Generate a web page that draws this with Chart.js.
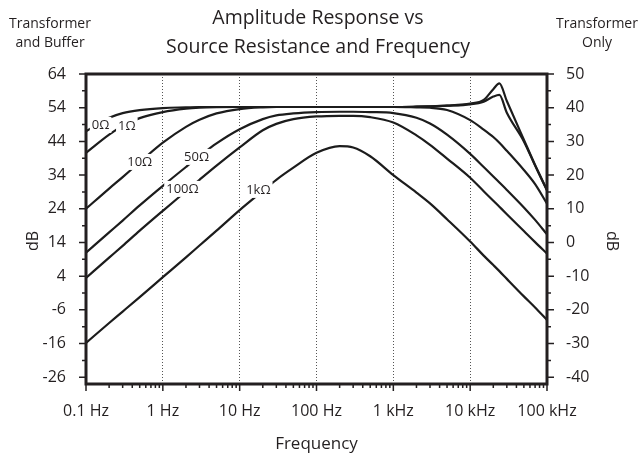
<!DOCTYPE html>
<html>
<head>
<meta charset="utf-8">
<script src="https://cdn.jsdelivr.net/npm/chart.js@4.4.1/dist/chart.umd.min.js"></script>
<style>
  html, body { margin: 0; padding: 0; background: #fff; }
  canvas { display: block; }
</style>
</head>
<body>
<canvas id="ampChart" width="643" height="457"></canvas>
<script>
// Frequencies (Hz) the curves were read at
const freqs = [0.1, 0.2, 0.3, 0.5, 1, 2, 3, 5, 10, 20, 30, 50, 100, 200, 300, 500,
  1000, 2000, 3000, 5000, 10000, 15000, 20000, 24000, 30000, 50000, 70000, 100000];

// dB values (left axis, transformer + buffer) per source resistance
const r0 = [47, 51, 52.4, 53.3, 53.9, 54.1, 54.2, 54.2, 54.2, 54.2, 54.2, 54.2, 54.2, 54.2, 54.2, 54.2,
  54.2, 54.3, 54.4, 54.6, 55.2, 56.3, 59.5, 61.2, 56, 44.5, 37, 29.6];
const r1 = [40.6, 46, 48.6, 50.9, 52.7, 53.7, 54, 54.15, 54.2, 54.2, 54.2, 54.2, 54.2, 54.2, 54.2, 54.2,
  54.2, 54.3, 54.4, 54.6, 55, 55.8, 57.3, 57.8, 52.5, 44, 36.8, 29.4];
const r10 = [24, 30, 33.4, 37.8, 43.6, 48.3, 50.4, 52.3, 53.6, 54.1, 54.2, 54.2, 54.2, 54.2, 54.2, 54.2,
  54.2, 54.1, 54, 53.3, 50.3, 47.5, 45.3, 43.6, 41.2, 35.5, 31.3, 25.5];
const r50 = [11, 17, 20.5, 25, 30.8, 36.4, 39.6, 43.4, 47.6, 50.6, 51.7, 52.3, 52.7, 52.8, 52.8, 52.7,
  52.4, 51, 49.3, 46, 40.3, 36.4, 33.6, 31.8, 29.6, 24.4, 20.7, 16.4];
const r100 = [3.5, 9.5, 13, 17.5, 23.4, 29.2, 32.6, 36.8, 42.2, 47.3, 49.2, 50.6, 51.4, 51.6, 51.6, 51.2,
  49.6, 45.8, 43, 38.9, 33.2, 29.2, 26.4, 24.6, 22.4, 17.4, 14.1, 10.7];
const r1k = [-15.8, -9.9, -6.5, -2.2, 3.7, 9.6, 13.1, 17.5, 23.6, 29.3, 32.6, 36.2, 40.6, 42.6, 42.2, 39.6,
  34, 28.8, 25.6, 20.9, 14.3, 10.1, 7.3, 5.5, 3.2, -2, -5.3, -9];

// Axis ticks
const decadeTicks = [0.1, 1, 10, 100, 1000, 10000, 100000];
const decadeLabels = ['0.1 Hz', '1 Hz', '10 Hz', '100 Hz', '1 kHz', '10 kHz', '100 kHz'];
const leftTicks = [64, 54, 44, 34, 24, 14, 4, -6, -16, -26];
const rightTicks = [50, 40, 30, 20, 10, 0, -10, -20, -30, -40];

// Curve labels: text, frequency, dB
const labelText = ['0\u03A9', '1\u03A9', '10\u03A9', '50\u03A9', '100\u03A9', '1k\u03A9'];
const labelFreq = [0.155, 0.34, 0.5, 2.75, 1.8, 17.5];
const labelDb = [48.9, 48.6, 37.9, 39.4, 29.9, 29.6];

const FONT = '"Open Sans", "Noto Sans", sans-serif';
const INK = '#231f20';

function series(vals) {
  return {
    data: freqs.map((f, i) => ({ x: f, y: vals[i] })),
    borderColor: '#1c1c1c',
    borderWidth: 2.2,
    pointRadius: 0,
    fill: false,
    cubicInterpolationMode: 'monotone'
  };
}

// frame, tick marks, curve labels and the extra texts
const decorations = {
  id: 'decorations',
  afterDatasetsDraw(chart) {
    const ctx = chart.ctx;
    const a = chart.chartArea;
    const xs = chart.scales.x, ys = chart.scales.y;
    ctx.save();

    // curve labels with a white gap behind
    ctx.font = '13px ' + FONT;
    ctx.textAlign = 'center';
    ctx.textBaseline = 'middle';
    labelText.forEach((t, i) => {
      const px = xs.getPixelForValue(labelFreq[i]);
      const py = ys.getPixelForValue(labelDb[i]);
      const w = ctx.measureText(t).width;
      ctx.fillStyle = '#fff';
      ctx.fillRect(px - w / 2 - 2, py - 8, w + 4, 16);
      ctx.fillStyle = INK;
      ctx.fillText(t, px, py);
    });

    // frame
    ctx.strokeStyle = INK;
    ctx.lineWidth = 3;
    ctx.strokeRect(a.left, a.top, a.right - a.left, a.bottom - a.top);

    // y tick marks every 5 dB
    ctx.lineWidth = 1.5;
    ctx.beginPath();
    for (let v = 64; v >= -28; v -= 5) {
      const y = ys.getPixelForValue(v);
      const len = ((64 - v) % 10 === 0) ? 7 : 4;
      ctx.moveTo(a.left - len, y); ctx.lineTo(a.left, y);
      ctx.moveTo(a.right, y); ctx.lineTo(a.right + len, y);
    }
    // x tick marks, log minor
    decadeTicks.forEach((d, di) => {
      for (let k = 1; k <= 9; k++) {
        if (di === decadeTicks.length - 1 && k > 1) break;
        const x = xs.getPixelForValue(d * k);
        const len = k === 1 ? 7 : 4;
        ctx.moveTo(x, a.bottom); ctx.lineTo(x, a.bottom + len);
      }
    });
    ctx.stroke();

    ctx.fillStyle = INK;
    ctx.textAlign = 'center';
    ctx.textBaseline = 'alphabetic';
    // title
    ctx.font = '19.5px ' + FONT;
    ctx.fillText('Amplitude Response vs', 318, 24);
    ctx.fillText('Source Resistance and Frequency', 318, 53);
    // corner captions
    ctx.font = '14px ' + FONT;
    ctx.fillText('Transformer', 50, 28);
    ctx.fillText('and Buffer', 50, 47);
    ctx.fillText('Transformer', 597, 28);
    ctx.fillText('Only', 597, 47);

    // dB axis titles
    ctx.font = '16px ' + FONT;
    ctx.textBaseline = 'middle';
    ctx.save();
    ctx.translate(33, 241);
    ctx.rotate(-Math.PI / 2);
    ctx.fillText('dB', 0, 0);
    ctx.restore();
    ctx.save();
    ctx.translate(612, 241);
    ctx.rotate(Math.PI / 2);
    ctx.fillText('dB', 0, 0);
    ctx.restore();

    ctx.restore();
  }
};

const ampChart = new Chart(document.getElementById('ampChart').getContext('2d'), {
  type: 'line',
  data: {
    datasets: [series(r0), series(r1), series(r10), series(r50), series(r100), series(r1k)]
  },
  options: {
    responsive: false,
    animation: false,
    devicePixelRatio: 1,
    layout: { padding: { top: 74, left: 0, right: 0, bottom: 0 } },
    plugins: {
      legend: { display: false },
      tooltip: { enabled: false }
    },
    scales: {
      x: {
        type: 'logarithmic',
        position: 'bottom',
        min: 0.1,
        max: 100000,
        afterBuildTicks: s => { s.ticks = decadeTicks.map(v => ({ value: v })); },
        afterFit: s => { s.height = 73; },
        ticks: {
          autoSkip: false,
          maxRotation: 0,
          padding: 18,
          color: INK,
          font: { family: FONT, size: 16 },
          callback: (v, i) => decadeLabels[i]
        },
        grid: {
          drawTicks: false,
          color: '#555',
          lineWidth: c => (c.index === 0 || c.index === decadeTicks.length - 1) ? 0 : 1
        },
        border: { display: false, dash: [1, 2] },
        title: {
          display: true,
          text: 'Frequency',
          color: INK,
          font: { family: FONT, size: 17 },
          padding: { top: 0, bottom: 3 }
        }
      },
      y: {
        position: 'left',
        min: -28,
        max: 64,
        afterBuildTicks: s => { s.ticks = leftTicks.map(v => ({ value: v })); },
        afterFit: s => { s.width = 86; },
        ticks: { padding: 12, color: INK, font: { family: FONT, size: 16 } },
        grid: { display: false },
        border: { display: false }
      },
      y2: {
        position: 'right',
        min: -42,
        max: 50,
        afterBuildTicks: s => { s.ticks = rightTicks.map(v => ({ value: v })); },
        afterFit: s => { s.width = 96; },
        ticks: { padding: 11, color: INK, font: { family: FONT, size: 16 } },
        grid: { display: false },
        border: { display: false }
      }
    }
  },
  plugins: [decorations]
});
</script>
</body>
</html>
